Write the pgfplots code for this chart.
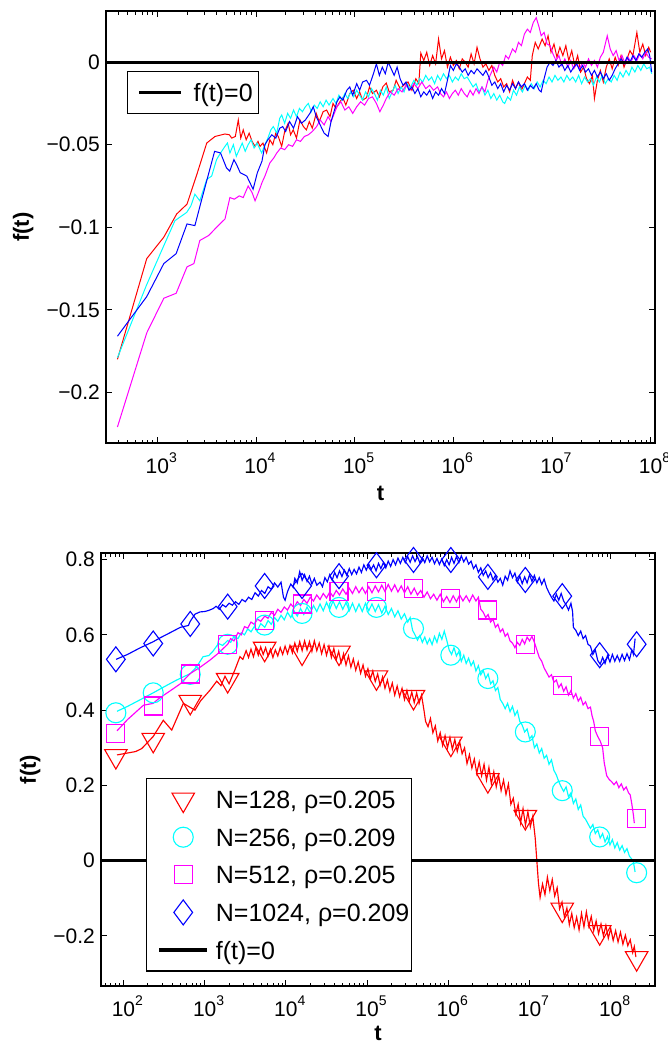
\documentclass[border=0pt]{standalone}
\usepackage{fontspec}
\setmainfont{Liberation Sans}
\usepackage{pgfplots}
\pgfplotsset{compat=1.18}
\definecolor{mred}{rgb}{1,0,0}
\definecolor{mcyan}{rgb}{0,1,1}
\definecolor{mmag}{rgb}{1,0,1}
\definecolor{mblue}{rgb}{0,0,1}
\newcommand\tp[1]{10\rlap{\raisebox{10.5pt}{\fontsize{14}{14}\selectfont #1}}}
\begin{document}
\begin{tikzpicture}
\path[use as bounding box] (0pt,0pt) rectangle (667pt,-1042pt);
\pgfplotsset{
 myaxis/.style={scale only axis, tick align=inside, major tick length=6pt, minor tick length=3.5pt,
   axis line style={line width=1.3pt}, every tick/.style={black, line width=1pt},
   tick label style={font=\fontsize{21}{25}\selectfont},
   yticklabel style={inner sep=0pt, xshift=-6pt},
   xticklabel style={inner sep=0pt, yshift=-10pt},
   label style={font=\fontsize{22}{26}\selectfont\bfseries},
   minor xtick={1.301,1.477,1.602,1.699,1.778,1.845,1.903,1.954,
     2.301,2.477,2.602,2.699,2.778,2.845,2.903,2.954,
     3.301,3.477,3.602,3.699,3.778,3.845,3.903,3.954,
     4.301,4.477,4.602,4.699,4.778,4.845,4.903,4.954,
     5.301,5.477,5.602,5.699,5.778,5.845,5.903,5.954,
     6.301,6.477,6.602,6.699,6.778,6.845,6.903,6.954,
     7.301,7.477,7.602,7.699,7.778,7.845,7.903,7.954,
     8.301,8.477},
   legend style={font=\fontsize{25}{30}\selectfont, draw=black, line width=1.2pt, fill=white,
     inner ysep=6pt, nodes={inner xsep=0pt, inner ysep=0pt, text height=24pt, text depth=6pt}},
   legend cell align=left,
 },
 ser/.style={line width=1pt},
 serb/.style={line width=1.15pt},
}
% ---------------- top panel ----------------
\begin{axis}[myaxis, at={(106pt,-443pt)}, anchor=south west, width=549pt, height=432pt,
 xmin=2.479, xmax=8.044, ymin=-0.2307, ymax=0.031,
 xtick={3,4,5,6,7,8}, xticklabels={\tp{3},\tp{4},\tp{5},\tp{6},\tp{7},\tp{8}},
 ytick={-0.2,-0.15,-0.1,-0.05,0}, yticklabels={−0.2,−0.15,−0.1,−0.05,0},
 xlabel={t}, ylabel={f(t)},
 xlabel style={at={(axis description cs:0.5,-0.132)}, anchor=base},
 ylabel style={at={(axis description cs:-0.151,0.5)}, anchor=center},
 legend style={at={(axis description cs:0.0383,0.862)}, anchor=north west, inner xsep=5.5pt, column sep=10.7pt},
 legend image code/.code={\path (0pt,0pt); \draw[#1] (4.5pt,0pt) -- (46.5pt,0pt);},
]
% red
\addplot[ser, color=mred, forget plot] coordinates {
(2.595,-0.180)(2.892,-0.119)(3.065,-0.106)(3.195,-0.092)(3.300,-0.086)(3.400,-0.068)(3.500,-0.049)(3.584,-0.045)
(3.685,-0.0435)(3.730,-0.044)(3.753,-0.046)(3.790,-0.045)(3.820,-0.035)(3.845,-0.046)(3.870,-0.041)(3.900,-0.047)
(3.930,-0.043)(3.960,-0.048)(3.990,-0.051)(4.020,-0.048)(4.040,-0.051)(4.070,-0.049)(4.107,-0.055)(4.140,-0.047)
(4.170,-0.050)(4.200,-0.043)(4.225,-0.045)(4.260,-0.051)(4.290,-0.042)(4.326,-0.037)(4.350,-0.044)(4.377,-0.041)
(4.410,-0.046)(4.445,-0.035)(4.480,-0.039)(4.510,-0.041)(4.540,-0.036)(4.570,-0.040)(4.610,-0.031)(4.640,-0.036)
(4.680,-0.030)(4.715,-0.029)(4.750,-0.033)(4.780,-0.025)(4.810,-0.028)(4.850,-0.024)(4.880,-0.0215)(4.910,-0.026)
(4.950,-0.019)(4.985,-0.017)(5.020,-0.022)(5.050,-0.018)(5.080,-0.023)(5.120,-0.0215)(5.150,-0.015)(5.180,-0.019)
(5.220,-0.017)(5.250,-0.021)(5.286,-0.0148)(5.320,-0.0127)(5.350,-0.018)(5.390,-0.017)(5.420,-0.011)(5.460,-0.016)
(5.500,-0.0138)(5.540,-0.012)(5.580,-0.017)(5.620,-0.010)(5.650,-0.013)(5.670,0.0055)(5.700,0.001)(5.730,0.006)
(5.760,-0.002)(5.790,0.004)(5.820,-0.001)(5.850,0.014)(5.880,0.002)(5.910,0.007)(5.940,-0.003)(5.970,0.003)
(6.000,-0.002)(6.030,0.001)(6.060,-0.004)(6.090,0.002)(6.120,0.000)(6.150,-0.003)(6.180,0.005)(6.210,-0.001)
(6.240,0.009)(6.270,0.002)(6.300,-0.003)(6.330,-0.001)(6.360,-0.005)(6.390,-0.002)(6.420,-0.008)(6.450,-0.012)
(6.480,-0.010)(6.510,-0.015)(6.540,-0.013)(6.570,-0.018)(6.600,-0.011)(6.630,-0.016)(6.660,-0.012)(6.690,-0.017)
(6.720,-0.013)(6.750,-0.009)(6.780,-0.011)(6.800,0.004)(6.830,0.012)(6.860,0.008)(6.900,0.014)(6.930,0.010)
(6.960,0.016)(6.990,0.006)(7.020,0.011)(7.050,0.003)(7.080,0.009)(7.110,0.004)(7.140,0.010)(7.170,0.001)
(7.200,0.007)(7.230,-0.002)(7.260,0.004)(7.290,-0.006)(7.320,-0.003)(7.350,-0.010)(7.380,-0.013)(7.410,-0.008)
(7.430,-0.022)(7.460,-0.011)(7.490,-0.005)(7.520,-0.012)(7.550,-0.003)(7.580,0.002)(7.610,-0.004)(7.640,0.003)
(7.670,-0.002)(7.700,0.004)(7.730,-0.003)(7.760,0.002)(7.790,0.007)(7.820,0.004)(7.860,0.018)(7.890,0.006)
(7.920,0.011)(7.950,0.004)(7.980,0.009)(8.000,0.006)};
% cyan
\addplot[ser, color=mcyan, forget plot] coordinates {
(2.595,-0.179)(2.890,-0.135)(3.044,-0.114)(3.178,-0.096)(3.297,-0.091)(3.340,-0.087)(3.380,-0.080)(3.430,-0.084)
(3.500,-0.071)(3.550,-0.069)(3.600,-0.059)(3.640,-0.055)(3.685,-0.051)(3.710,-0.049)(3.735,-0.055)(3.770,-0.050)
(3.800,-0.057)(3.830,-0.053)(3.860,-0.049)(3.890,-0.054)(3.920,-0.050)(3.950,-0.047)(3.980,-0.052)(4.010,-0.049)
(4.057,-0.055)(4.090,-0.050)(4.120,-0.046)(4.150,-0.041)(4.175,-0.039)(4.210,-0.043)(4.240,-0.034)(4.260,-0.032)
(4.290,-0.037)(4.320,-0.031)(4.350,-0.034)(4.380,-0.029)(4.410,-0.033)(4.440,-0.028)(4.470,-0.030)(4.500,-0.027)
(4.530,-0.025)(4.560,-0.030)(4.590,-0.026)(4.620,-0.028)(4.650,-0.024)(4.680,-0.027)(4.710,-0.023)(4.740,-0.026)
(4.780,-0.022)(4.810,-0.025)(4.840,-0.020)(4.870,-0.023)(4.900,-0.019)(4.930,-0.022)(4.960,-0.018)(4.990,-0.021)
(5.020,-0.017)(5.050,-0.020)(5.080,-0.023)(5.110,-0.018)(5.140,-0.021)(5.170,-0.016)(5.200,-0.019)(5.230,-0.023)
(5.260,-0.017)(5.290,-0.020)(5.320,-0.015)(5.350,-0.022)(5.380,-0.018)(5.410,-0.014)(5.440,-0.019)(5.470,-0.015)
(5.500,-0.018)(5.530,-0.013)(5.560,-0.016)(5.600,-0.011)(5.630,-0.014)(5.660,-0.010)(5.690,-0.012)(5.720,-0.008)
(5.750,-0.011)(5.780,-0.009)(5.810,-0.013)(5.840,-0.008)(5.870,-0.011)(5.900,-0.007)(5.930,-0.010)(5.960,-0.008)
(5.990,-0.012)(6.020,-0.009)(6.050,-0.011)(6.080,-0.007)(6.110,-0.010)(6.140,-0.009)(6.170,-0.012)(6.200,-0.015)
(6.230,-0.013)(6.260,-0.018)(6.290,-0.015)(6.320,-0.020)(6.350,-0.017)(6.380,-0.022)(6.410,-0.019)(6.440,-0.023)
(6.470,-0.020)(6.500,-0.024)(6.520,-0.025)(6.550,-0.021)(6.580,-0.023)(6.610,-0.017)(6.640,-0.020)(6.670,-0.015)
(6.700,-0.018)(6.730,-0.014)(6.760,-0.017)(6.790,-0.013)(6.820,-0.016)(6.850,-0.012)(6.880,-0.015)(6.910,-0.011)
(6.940,-0.013)(6.970,-0.009)(7.000,-0.012)(7.030,-0.008)(7.060,-0.011)(7.090,-0.009)(7.120,-0.012)(7.150,-0.008)
(7.180,-0.011)(7.210,-0.009)(7.240,-0.012)(7.270,-0.008)(7.300,-0.013)(7.330,-0.009)(7.360,-0.012)(7.390,-0.010)
(7.420,-0.014)(7.450,-0.009)(7.480,-0.012)(7.510,-0.008)(7.540,-0.013)(7.570,-0.010)(7.600,-0.012)(7.630,-0.008)
(7.660,-0.011)(7.690,-0.006)(7.720,-0.009)(7.750,-0.005)(7.780,-0.008)(7.810,-0.003)(7.840,-0.006)(7.870,-0.002)
(7.900,-0.005)(7.930,-0.001)(7.960,-0.004)(7.990,-0.003)(8.010,-0.007)};
% magenta
\addplot[ser, color=mmag, forget plot] coordinates {
(2.595,-0.221)(2.892,-0.164)(3.065,-0.143)(3.190,-0.140)(3.300,-0.124)(3.370,-0.122)(3.430,-0.108)(3.520,-0.105)
(3.600,-0.100)(3.685,-0.095)(3.735,-0.082)(3.780,-0.083)(3.830,-0.081)(3.870,-0.082)(3.920,-0.075)(3.960,-0.079)
(3.990,-0.084)(4.030,-0.078)(4.060,-0.073)(4.090,-0.069)(4.140,-0.061)(4.180,-0.058)(4.210,-0.055)(4.250,-0.052)
(4.290,-0.053)(4.330,-0.050)(4.370,-0.051)(4.410,-0.047)(4.450,-0.048)(4.490,-0.045)(4.530,-0.044)(4.570,-0.042)
(4.614,-0.039)(4.650,-0.035)(4.690,-0.038)(4.730,-0.033)(4.760,-0.036)(4.820,-0.027)(4.860,-0.024)(4.900,-0.029)
(4.940,-0.027)(4.980,-0.031)(5.020,-0.027)(5.060,-0.024)(5.100,-0.026)(5.140,-0.022)(5.180,-0.021)(5.220,-0.025)
(5.255,-0.030)(5.290,-0.026)(5.320,-0.022)(5.360,-0.018)(5.400,-0.020)(5.440,-0.016)(5.480,-0.018)(5.520,-0.014)
(5.560,-0.017)(5.600,-0.013)(5.640,-0.016)(5.680,-0.012)(5.720,-0.016)(5.760,-0.014)(5.800,-0.017)(5.840,-0.015)
(5.870,-0.019)(5.900,-0.021)(5.930,-0.018)(5.960,-0.022)(5.990,-0.019)(6.020,-0.017)(6.050,-0.020)(6.080,-0.016)
(6.110,-0.019)(6.140,-0.021)(6.170,-0.017)(6.200,-0.020)(6.230,-0.016)(6.260,-0.019)(6.290,-0.015)(6.320,-0.018)
(6.350,-0.011)(6.380,-0.007)(6.410,-0.003)(6.440,-0.006)(6.470,0.000)(6.500,-0.002)(6.530,0.004)(6.560,0.002)
(6.600,0.008)(6.630,0.006)(6.660,0.012)(6.690,0.010)(6.720,0.017)(6.750,0.020)(6.780,0.018)(6.810,0.024)
(6.840,0.027)(6.870,0.021)(6.890,0.016)(6.920,0.018)(6.950,0.011)(6.980,0.010)(7.010,0.005)(7.040,0.001)
(7.070,0.004)(7.100,-0.002)(7.130,0.002)(7.160,-0.003)(7.190,0.001)(7.220,-0.004)(7.250,-0.001)(7.280,-0.004)
(7.310,0.000)(7.340,-0.003)(7.370,0.002)(7.400,-0.002)(7.430,0.001)(7.460,-0.003)(7.490,0.003)(7.520,0.006)
(7.560,0.016)(7.590,0.008)(7.620,0.004)(7.650,0.007)(7.680,0.001)(7.710,0.004)(7.740,-0.001)(7.770,0.003)
(7.800,0.000)(7.830,0.004)(7.860,0.001)(7.890,0.005)(7.920,0.002)(7.950,0.006)(7.980,0.003)(8.010,0.002)};
% blue
\addplot[ser, color=mblue, forget plot] coordinates {
(2.595,-0.166)(2.892,-0.142)(3.065,-0.122)(3.190,-0.116)(3.300,-0.098)(3.380,-0.099)(3.450,-0.083)(3.580,-0.054)
(3.640,-0.055)(3.700,-0.064)(3.733,-0.066)(3.776,-0.059)(3.810,-0.063)(3.840,-0.067)(3.906,-0.069)(3.970,-0.077)
(4.013,-0.067)(4.060,-0.060)(4.090,-0.050)(4.120,-0.047)(4.160,-0.044)(4.200,-0.046)(4.240,-0.040)(4.270,-0.039)
(4.300,-0.042)(4.340,-0.036)(4.380,-0.040)(4.420,-0.033)(4.460,-0.037)(4.500,-0.035)(4.546,-0.031)(4.580,-0.027)
(4.610,-0.033)(4.650,-0.038)(4.690,-0.043)(4.730,-0.045)(4.760,-0.036)(4.790,-0.030)(4.820,-0.024)(4.850,-0.021)
(4.880,-0.023)(4.920,-0.017)(4.950,-0.015)(4.980,-0.020)(5.020,-0.013)(5.050,-0.017)(5.080,-0.012)(5.120,-0.011)
(5.150,-0.014)(5.190,-0.007)(5.220,-0.001)(5.250,-0.008)(5.280,-0.003)(5.310,-0.007)(5.340,0.000)(5.370,-0.004)
(5.400,-0.008)(5.430,-0.003)(5.460,-0.010)(5.490,-0.014)(5.520,-0.012)(5.550,-0.017)(5.580,-0.015)(5.610,-0.019)
(5.640,-0.016)(5.670,-0.021)(5.700,-0.018)(5.730,-0.020)(5.760,-0.017)(5.790,-0.022)(5.820,-0.018)(5.850,-0.020)
(5.880,-0.016)(5.910,-0.019)(5.940,-0.011)(5.970,-0.002)(6.000,-0.005)(6.030,-0.001)(6.060,-0.003)(6.090,-0.006)
(6.120,-0.004)(6.150,-0.008)(6.180,-0.005)(6.210,-0.007)(6.240,-0.004)(6.270,-0.006)(6.300,-0.008)(6.330,-0.005)
(6.360,-0.009)(6.390,-0.014)(6.420,-0.012)(6.450,-0.016)(6.480,-0.013)(6.510,-0.018)(6.540,-0.014)(6.570,-0.017)
(6.600,-0.013)(6.630,-0.016)(6.660,-0.012)(6.690,-0.015)(6.720,-0.013)(6.750,-0.017)(6.780,-0.014)(6.810,-0.016)
(6.840,-0.013)(6.870,-0.017)(6.890,-0.018)(6.920,-0.010)(6.950,-0.003)(6.980,0.000)(7.010,-0.002)(7.040,0.001)
(7.070,-0.003)(7.100,-0.001)(7.130,-0.005)(7.160,-0.002)(7.190,-0.006)(7.220,-0.003)(7.250,-0.001)(7.280,-0.005)
(7.310,-0.002)(7.340,-0.006)(7.370,-0.004)(7.400,-0.008)(7.430,-0.005)(7.460,-0.009)(7.490,-0.006)(7.520,-0.010)
(7.550,-0.007)(7.580,-0.011)(7.610,-0.008)(7.640,-0.004)(7.670,-0.001)(7.700,0.002)(7.730,-0.001)(7.760,0.003)
(7.790,0.000)(7.820,0.004)(7.850,0.001)(7.880,0.005)(7.910,0.003)(7.940,0.006)(7.970,0.008)(7.990,0.004)(8.010,-0.006)};
\addplot[black, line width=3.3pt] coordinates {(2,0) (9,0)};
\addlegendentry{f(t)=0}
\end{axis}
% ---------------- bottom panel ----------------
\begin{axis}[myaxis, at={(101pt,-986pt)}, anchor=south west, width=554pt, height=433pt,
 xmin=1.723, xmax=8.545, ymin=-0.333, ymax=0.8175,
 xtick={2,3,4,5,6,7,8}, xticklabels={\tp{2},\tp{3},\tp{4},\tp{5},\tp{6},\tp{7},\tp{8}},
 ytick={-0.2,0,0.2,0.4,0.6,0.8}, yticklabels={−0.2,0,0.2,0.4,0.6,0.8},
 xlabel={t}, ylabel={f(t)},
 xlabel style={at={(axis description cs:0.5,-0.125)}, anchor=base},
 ylabel style={at={(axis description cs:-0.128,0.5)}, anchor=center},
 legend style={at={(axis description cs:0.0812,0.4804)}, anchor=north west, inner xsep=2pt, column sep=7pt, row sep=7.6pt},
 legend image code/.code={\path (0pt,0pt); \draw[mark repeat=2,mark phase=2,#1] plot coordinates {(9pt,0pt) (33pt,0pt) (57pt,0pt)};},
]
% red line
\addplot[serb, color=mred, forget plot] coordinates {
(1.92,0.281)(2.15,0.290)(2.225,0.298)(2.366,0.330)(2.49,0.373)(2.594,0.347)(2.737,0.418)(2.88,0.400)(2.95,0.425)
(3.065,0.453)(3.148,0.477)(3.20,0.465)(3.25,0.490)(3.30,0.470)(3.37,0.506)(3.434,0.542)(3.47,0.535)
(3.51,0.558)(3.54,0.540)(3.57,0.562)(3.60,0.542)(3.63,0.566)(3.66,0.546)(3.69,0.568)(3.72,0.548)(3.75,0.566)
(3.78,0.544)(3.81,0.562)(3.84,0.540)(3.87,0.560)(3.90,0.544)(3.93,0.566)(3.96,0.548)(3.99,0.570)(4.02,0.550)
(4.05,0.572)(4.08,0.552)(4.11,0.578)(4.14,0.556)(4.17,0.582)(4.20,0.558)(4.23,0.584)(4.26,0.560)(4.29,0.582)
(4.32,0.556)(4.35,0.584)(4.38,0.558)(4.41,0.578)(4.44,0.550)(4.47,0.574)(4.50,0.546)(4.53,0.570)(4.56,0.540)
(4.59,0.564)(4.62,0.534)(4.65,0.556)(4.68,0.526)(4.71,0.550)(4.74,0.520)(4.77,0.544)(4.80,0.514)(4.83,0.536)
(4.86,0.506)(4.89,0.528)(4.92,0.498)(4.95,0.520)(4.98,0.490)(5.01,0.510)(5.04,0.482)(5.07,0.504)(5.10,0.476)
(5.13,0.496)(5.16,0.466)(5.19,0.488)(5.22,0.458)(5.25,0.480)(5.28,0.450)(5.31,0.472)(5.34,0.440)(5.37,0.464)
(5.40,0.436)(5.43,0.458)(5.46,0.428)(5.49,0.452)(5.52,0.424)(5.55,0.448)(5.58,0.420)(5.61,0.446)(5.64,0.418)
(5.67,0.440)(5.70,0.400)(5.72,0.370)(5.75,0.356)(5.78,0.378)(5.81,0.340)(5.84,0.358)(5.87,0.318)(5.90,0.340)
(5.93,0.306)(5.96,0.332)(5.99,0.300)(6.02,0.328)(6.05,0.296)(6.08,0.322)(6.11,0.290)(6.14,0.316)(6.17,0.284)
(6.20,0.300)(6.23,0.258)(6.26,0.282)(6.29,0.246)(6.32,0.270)(6.35,0.232)(6.38,0.262)(6.41,0.226)(6.44,0.256)
(6.47,0.214)(6.50,0.248)(6.53,0.204)(6.56,0.236)(6.59,0.196)(6.62,0.226)(6.65,0.186)(6.68,0.214)(6.71,0.176)
(6.74,0.204)(6.77,0.150)(6.80,0.166)(6.83,0.124)(6.86,0.150)(6.89,0.100)(6.92,0.138)(6.95,0.094)(6.98,0.130)
(7.01,0.090)(7.04,0.118)(7.07,0.060)(7.09,0.000)(7.11,-0.060)(7.13,-0.098)(7.16,-0.062)(7.19,-0.090)(7.22,-0.044)
(7.25,-0.080)(7.28,-0.050)(7.31,-0.094)(7.34,-0.072)(7.37,-0.128)(7.40,-0.110)(7.43,-0.150)(7.46,-0.126)
(7.49,-0.170)(7.52,-0.140)(7.55,-0.178)(7.58,-0.150)(7.61,-0.184)(7.64,-0.140)(7.67,-0.176)(7.70,-0.136)
(7.73,-0.174)(7.76,-0.148)(7.79,-0.186)(7.82,-0.160)(7.85,-0.194)(7.88,-0.168)(7.91,-0.200)(7.94,-0.172)
(7.97,-0.206)(8.00,-0.180)(8.03,-0.212)(8.06,-0.186)(8.09,-0.216)(8.12,-0.190)(8.15,-0.222)(8.18,-0.198)
(8.21,-0.226)(8.24,-0.210)(8.27,-0.244)(8.29,-0.228)(8.31,-0.256)};
% cyan line
\addplot[serb, color=mcyan, forget plot] coordinates {
(1.92,0.397)(2.05,0.410)(2.20,0.427)(2.366,0.446)(2.50,0.462)(2.655,0.480)(2.822,0.497)(2.90,0.515)(2.98,0.542)
(3.05,0.545)(3.10,0.556)(3.17,0.577)(3.22,0.572)(3.283,0.585)(3.32,0.580)(3.36,0.596)(3.41,0.590)(3.45,0.606)
(3.49,0.600)(3.53,0.616)(3.57,0.608)(3.61,0.622)(3.65,0.612)(3.69,0.630)(3.74,0.620)(3.78,0.638)(3.82,0.628)
(3.86,0.646)(3.90,0.636)(3.94,0.652)(3.98,0.640)(4.02,0.660)(4.06,0.646)(4.10,0.664)(4.14,0.650)(4.18,0.670)
(4.22,0.654)(4.26,0.674)(4.30,0.658)(4.34,0.678)(4.38,0.662)(4.42,0.682)(4.46,0.664)(4.50,0.686)(4.54,0.668)
(4.58,0.690)(4.62,0.670)(4.66,0.688)(4.70,0.668)(4.74,0.686)(4.78,0.664)(4.82,0.684)(4.86,0.662)(4.90,0.682)
(4.94,0.662)(4.98,0.684)(5.02,0.664)(5.06,0.682)(5.10,0.662)(5.14,0.680)(5.18,0.658)(5.22,0.676)(5.26,0.654)
(5.30,0.670)(5.34,0.648)(5.38,0.664)(5.42,0.642)(5.46,0.656)(5.50,0.634)(5.53,0.646)(5.56,0.612)(5.59,0.600)
(5.62,0.586)(5.65,0.598)(5.68,0.580)(5.71,0.594)(5.74,0.576)(5.77,0.590)(5.80,0.574)(5.83,0.596)(5.86,0.580)
(5.89,0.604)(5.92,0.588)(5.95,0.610)(5.98,0.586)(6.01,0.560)(6.04,0.548)(6.07,0.566)(6.10,0.544)(6.13,0.556)
(6.16,0.530)(6.19,0.546)(6.22,0.524)(6.25,0.538)(6.28,0.518)(6.31,0.530)(6.34,0.504)(6.37,0.518)(6.40,0.494)
(6.43,0.506)(6.46,0.484)(6.49,0.496)(6.52,0.470)(6.55,0.478)(6.58,0.452)(6.61,0.460)(6.64,0.428)(6.67,0.418)
(6.70,0.404)(6.73,0.418)(6.76,0.396)(6.79,0.410)(6.82,0.386)(6.85,0.398)(6.88,0.370)(6.91,0.360)(6.94,0.342)
(6.97,0.350)(7.00,0.324)(7.03,0.332)(7.06,0.300)(7.09,0.310)(7.12,0.286)(7.15,0.298)(7.18,0.272)(7.21,0.280)
(7.24,0.256)(7.27,0.268)(7.30,0.240)(7.33,0.228)(7.36,0.210)(7.39,0.196)(7.42,0.184)(7.45,0.196)(7.48,0.170)
(7.51,0.180)(7.54,0.152)(7.57,0.164)(7.60,0.136)(7.63,0.148)(7.66,0.118)(7.69,0.110)(7.72,0.098)(7.75,0.086)
(7.78,0.096)(7.81,0.072)(7.84,0.082)(7.87,0.060)(7.90,0.072)(7.93,0.050)(7.96,0.064)(7.99,0.042)(8.02,0.056)
(8.05,0.034)(8.08,0.048)(8.11,0.028)(8.14,0.040)(8.17,0.022)(8.20,0.032)(8.23,0.012)(8.26,0.004)(8.28,-0.004)(8.30,-0.030)};
% magenta line
\addplot[serb, color=mmag, forget plot] coordinates {
(1.92,0.345)(2.05,0.375)(2.245,0.413)(2.366,0.418)(2.43,0.430)(2.60,0.455)(2.70,0.470)(2.82,0.497)(2.95,0.515)
(3.065,0.533)(3.15,0.548)(3.22,0.562)(3.283,0.575)(3.32,0.590)(3.36,0.584)(3.41,0.606)(3.45,0.600)(3.49,0.622)
(3.53,0.618)(3.57,0.634)(3.61,0.628)(3.65,0.642)(3.69,0.636)(3.74,0.650)(3.78,0.644)(3.82,0.660)(3.86,0.652)
(3.90,0.668)(3.94,0.660)(3.98,0.674)(4.02,0.666)(4.06,0.682)(4.10,0.672)(4.14,0.688)(4.18,0.678)(4.22,0.694)
(4.26,0.684)(4.30,0.700)(4.34,0.690)(4.38,0.706)(4.42,0.694)(4.46,0.710)(4.50,0.698)(4.54,0.714)(4.58,0.702)
(4.62,0.718)(4.66,0.706)(4.70,0.722)(4.74,0.708)(4.78,0.724)(4.82,0.710)(4.86,0.728)(4.90,0.712)(4.94,0.726)
(4.98,0.710)(5.02,0.728)(5.06,0.712)(5.10,0.730)(5.14,0.714)(5.18,0.732)(5.22,0.715)(5.26,0.734)(5.30,0.716)
(5.34,0.733)(5.38,0.714)(5.42,0.730)(5.46,0.712)(5.50,0.728)(5.54,0.708)(5.58,0.724)(5.62,0.706)(5.66,0.718)
(5.70,0.700)(5.74,0.714)(5.78,0.696)(5.82,0.708)(5.86,0.692)(5.90,0.708)(5.94,0.688)(5.98,0.702)(6.02,0.686)
(6.06,0.704)(6.10,0.688)(6.14,0.706)(6.18,0.690)(6.22,0.704)(6.26,0.688)(6.30,0.706)(6.34,0.690)(6.37,0.700)
(6.40,0.668)(6.43,0.660)(6.46,0.646)(6.49,0.654)(6.52,0.634)(6.55,0.642)(6.58,0.620)(6.61,0.628)(6.64,0.608)
(6.67,0.616)(6.70,0.596)(6.73,0.604)(6.76,0.584)(6.79,0.578)(6.82,0.566)(6.85,0.580)(6.88,0.572)(6.91,0.588)
(6.94,0.576)(6.97,0.594)(7.00,0.584)(7.03,0.596)(7.06,0.580)(7.09,0.560)(7.12,0.540)(7.15,0.530)(7.18,0.512)
(7.21,0.500)(7.24,0.488)(7.27,0.494)(7.30,0.474)(7.33,0.480)(7.36,0.460)(7.39,0.470)(7.42,0.450)(7.45,0.462)
(7.48,0.440)(7.51,0.452)(7.54,0.432)(7.57,0.444)(7.60,0.424)(7.63,0.434)(7.66,0.414)(7.69,0.422)(7.72,0.404)
(7.75,0.408)(7.77,0.385)(7.79,0.370)(7.81,0.345)(7.84,0.330)(7.87,0.318)(7.90,0.300)(7.92,0.260)(7.95,0.226)
(7.98,0.216)(8.01,0.210)(8.04,0.202)(8.07,0.210)(8.10,0.194)(8.13,0.204)(8.16,0.188)(8.19,0.196)(8.22,0.180)
(8.24,0.175)(8.26,0.150)(8.28,0.120)(8.29,0.100)};
% blue line
\addplot[serb, color=mblue, forget plot] coordinates {
(1.909,0.535)(2.05,0.548)(2.20,0.565)(2.368,0.582)(2.45,0.592)(2.594,0.608)(2.70,0.620)(2.80,0.625)(2.819,0.635)
(2.88,0.655)(2.942,0.661)(3.00,0.662)(3.05,0.665)(3.106,0.670)(3.14,0.676)(3.18,0.668)(3.22,0.680)(3.26,0.674)
(3.30,0.684)(3.34,0.679)(3.38,0.688)(3.42,0.681)(3.46,0.694)(3.50,0.688)(3.54,0.700)(3.58,0.694)(3.62,0.712)
(3.66,0.703)(3.70,0.718)(3.74,0.710)(3.78,0.728)(3.82,0.721)(3.86,0.738)(3.90,0.727)(3.94,0.740)(3.97,0.700)
(3.99,0.692)(4.02,0.715)(4.06,0.735)(4.09,0.726)(4.11,0.750)(4.14,0.738)(4.17,0.768)(4.20,0.745)(4.23,0.760)
(4.26,0.742)(4.29,0.756)(4.32,0.735)(4.35,0.750)(4.38,0.732)(4.42,0.740)(4.45,0.728)(4.48,0.752)(4.51,0.741)
(4.54,0.760)(4.57,0.745)(4.60,0.766)(4.63,0.752)(4.66,0.770)(4.69,0.755)(4.72,0.772)(4.75,0.758)(4.78,0.776)
(4.81,0.760)(4.84,0.774)(4.87,0.762)(4.90,0.780)(4.93,0.766)(4.96,0.786)(4.99,0.772)(5.02,0.788)(5.05,0.774)
(5.08,0.786)(5.11,0.770)(5.14,0.790)(5.17,0.776)(5.20,0.792)(5.23,0.778)(5.26,0.796)(5.29,0.782)(5.32,0.800)
(5.35,0.786)(5.38,0.804)(5.41,0.790)(5.44,0.806)(5.47,0.792)(5.50,0.808)(5.53,0.793)(5.56,0.810)(5.59,0.795)
(5.62,0.808)(5.65,0.791)(5.68,0.806)(5.71,0.792)(5.74,0.810)(5.77,0.794)(5.80,0.806)(5.83,0.789)(5.86,0.803)
(5.89,0.787)(5.92,0.802)(5.95,0.784)(5.98,0.800)(6.01,0.786)(6.04,0.806)(6.07,0.790)(6.10,0.808)(6.13,0.792)
(6.16,0.810)(6.19,0.794)(6.22,0.806)(6.25,0.788)(6.28,0.796)(6.31,0.776)(6.34,0.786)(6.37,0.766)(6.40,0.778)
(6.43,0.758)(6.46,0.770)(6.49,0.752)(6.52,0.765)(6.55,0.746)(6.58,0.758)(6.61,0.740)(6.64,0.750)(6.67,0.732)
(6.70,0.756)(6.73,0.745)(6.76,0.770)(6.79,0.752)(6.82,0.764)(6.85,0.740)(6.88,0.756)(6.91,0.736)(6.94,0.754)
(6.97,0.738)(7.00,0.760)(7.03,0.742)(7.06,0.758)(7.09,0.738)(7.12,0.752)(7.15,0.734)(7.18,0.748)(7.21,0.726)
(7.24,0.712)(7.27,0.700)(7.30,0.690)(7.33,0.708)(7.36,0.692)(7.39,0.710)(7.42,0.690)(7.45,0.680)(7.48,0.666)
(7.51,0.684)(7.53,0.662)(7.54,0.620)(7.57,0.612)(7.60,0.598)(7.63,0.610)(7.66,0.590)(7.69,0.598)(7.72,0.575)
(7.75,0.570)(7.78,0.548)(7.81,0.560)(7.84,0.532)(7.87,0.522)(7.90,0.540)(7.93,0.524)(7.96,0.545)(7.99,0.528)
(8.02,0.548)(8.05,0.530)(8.08,0.545)(8.11,0.530)(8.14,0.548)(8.17,0.532)(8.20,0.550)(8.23,0.534)(8.26,0.560)
(8.28,0.548)(8.30,0.590)};
% markers
\addplot[only marks, color=mred, mark=triangle, mark size=13pt, mark options={rotate=180, line width=1.1pt}] coordinates {
(1.906,0.278)(2.366,0.321)(2.822,0.422)(3.283,0.48)(3.738,0.563)(4.199,0.553)(4.654,0.553)(5.115,0.487)
(5.571,0.435)(6.031,0.311)(6.487,0.214)(6.948,0.116)(7.403,-0.130)(7.864,-0.190)(8.319,-0.259)};
\addlegendentry{N=128, ρ=0.205}
\addplot[only marks, color=mcyan, mark=o, mark size=10pt, mark options={line width=1.1pt}] coordinates {
(1.906,0.393)(2.366,0.446)(2.822,0.495)(3.283,0.575)(3.738,0.626)(4.199,0.657)(4.654,0.673)(5.115,0.673)
(5.571,0.617)(6.031,0.546)(6.487,0.484)(6.948,0.342)(7.403,0.186)(7.864,0.063)(8.319,-0.032)};
\addlegendentry{N=256, ρ=0.209}
\addplot[only marks, color=mmag, mark=square, mark size=9pt, mark options={line width=1.1pt}] coordinates {
(1.906,0.338)(2.366,0.411)(2.822,0.496)(3.283,0.575)(3.738,0.637)(4.199,0.682)(4.654,0.715)(5.115,0.715)
(5.571,0.723)(6.031,0.697)(6.487,0.666)(6.948,0.575)(7.403,0.465)(7.864,0.331)(8.319,0.112)};
\addlegendentry{N=512, ρ=0.205}
\addplot[only marks, color=mblue, mark=diamond, mark size=12.5pt, mark options={line width=1.1pt}] coordinates {
(1.906,0.535)(2.366,0.577)(2.822,0.629)(3.283,0.675)(3.738,0.730)(4.199,0.730)(4.654,0.756)(5.115,0.785)
(5.571,0.799)(6.031,0.799)(6.487,0.754)(6.948,0.746)(7.403,0.703)(7.864,0.546)(8.319,0.575)};
\addlegendentry{N=1024, ρ=0.209}
\addplot[black, line width=3.3pt] coordinates {(1,0) (9,0)};
\addlegendentry{f(t)=0}
\end{axis}
\end{tikzpicture}
\end{document}
